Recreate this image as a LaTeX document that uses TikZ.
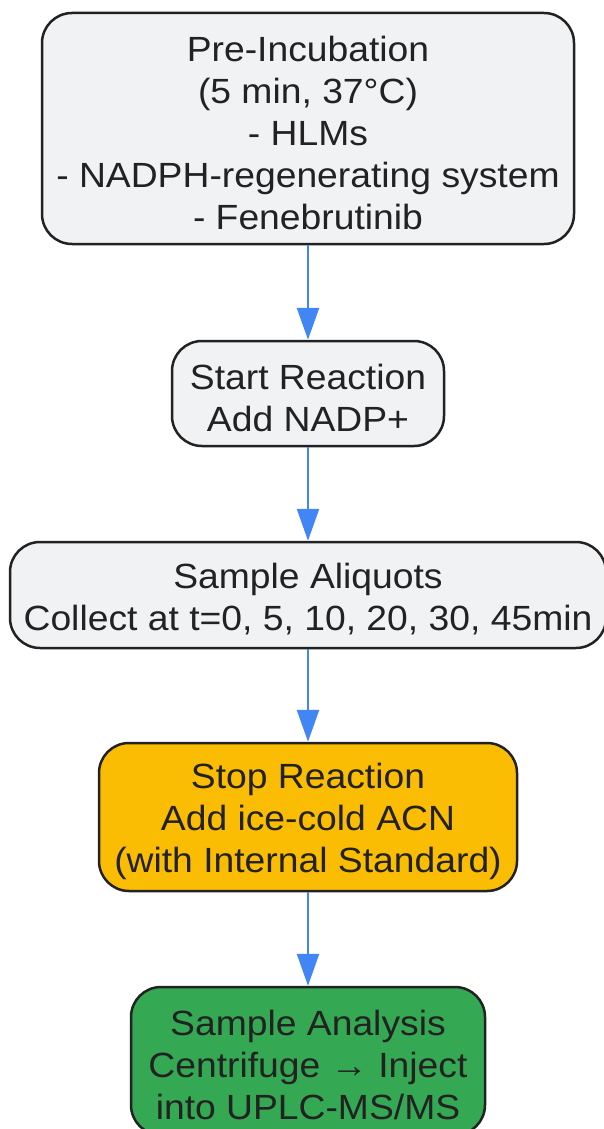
\documentclass[tikz,border=0pt]{standalone}
\usepackage{fontspec}
\setmainfont{Liberation Sans}[FakeStretch=1.065]
\usepackage{tikz}
\usetikzlibrary{arrows.meta,positioning}
\definecolor{boxgray}{HTML}{F1F2F4}
\definecolor{boxline}{HTML}{222222}
\definecolor{stoporange}{HTML}{FBBC04}
\definecolor{doneGreen}{HTML}{34A853}
\definecolor{flowblue}{HTML}{4285F4}
\newcommand{\toppad}{\rule{0pt}{34pt}}

\begin{document}
\begin{tikzpicture}[x=1pt,y=-1pt,
    stagebox/.style={draw=boxline, line width=2.5pt, rounded corners=30pt, fill=boxgray,
        text=boxline, align=center, inner sep=0pt, font=\fontsize{35}{42}\selectfont},
    flow/.style={draw=flowblue, line width=2.5pt, -{Triangle[length=32pt,width=22pt]}}]
                \useasboundingbox (0,0) rectangle (604,1129);
                \node[stagebox, minimum width=532pt, minimum height=231pt] (preinc) at (308,128.5)
                    {\toppad Pre-Incubation\\(5 min, 37°C)\\- HLMs\\- NADPH-regenerating system\\- Fenebrutinib};
                \node[stagebox, minimum width=272pt, minimum height=105pt] (start) at (308,393.5)
                    {\toppad Start Reaction\\Add NADP+};
                \node[stagebox, minimum width=596pt, minimum height=106pt] (aliquot) at (308,595)
                    {\toppad Sample Aliquots\\Collect at t=0, 5, 10, 20, 30, 45min};
                \node[stagebox, fill=stoporange, minimum width=418pt, minimum height=148pt] (stop) at (308,817)
                    {\toppad Stop Reaction\\Add ice-cold ACN\\(with Internal Standard)};
                \node[stagebox, fill=doneGreen, minimum width=354pt, minimum height=148pt] (analysis) at (308,1061)
                    {\toppad Sample Analysis\\Centrifuge → Inject\\into UPLC-MS/MS};
                \draw[flow] (preinc) -- (start);
                \draw[flow] (start) -- (aliquot);
                \draw[flow] (aliquot) -- (stop);
                \draw[flow] (stop) -- (analysis);
            \end{tikzpicture}
\end{document}
